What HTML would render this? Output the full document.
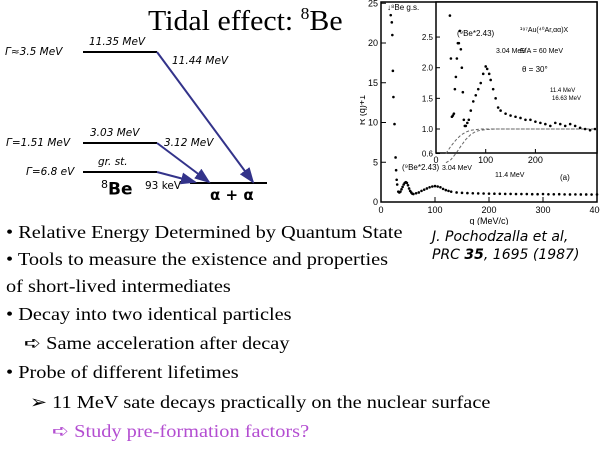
<!DOCTYPE html>
<html><head><meta charset="utf-8"><style>
body{margin:0;background:#fff}
#s{position:relative;width:600px;height:450px;overflow:hidden;background:#fff;font-family:"Liberation Serif",serif}
.t{position:absolute;white-space:nowrap}
.b{font-size:18px;color:#000;transform:scaleX(1.13);transform-origin:0 0}
.m{font-family:"DejaVu Sans",sans-serif;font-size:10.5px;font-style:italic;color:#000}
</style></head><body>
<div id="s">
<div class="t" style="left:148px;top:4px;font-size:29px;transform:scaleX(1.03);transform-origin:0 0">Tidal effect: <sup style="font-size:17px;vertical-align:11px">8</sup>Be</div>

<svg width="360" height="210" style="position:absolute;left:0;top:0">
<defs><marker id="ah" markerWidth="8" markerHeight="8" refX="7" refY="4" orient="auto"><path d="M0,1 L8,4 L0,7 z" fill="#33338a"/></marker></defs>
<g stroke="#000" stroke-width="2">
<line x1="83" y1="52" x2="157" y2="52"/>
<line x1="83" y1="143" x2="157" y2="143"/>
<line x1="83" y1="172" x2="157" y2="172"/>
<line x1="190" y1="183" x2="267" y2="183"/>
</g>
<g stroke="#33338a" stroke-width="2" marker-end="url(#ah)">
<line x1="157" y1="52" x2="253" y2="182"/>
<line x1="157" y1="143" x2="209" y2="182"/>
<line x1="157" y1="172" x2="195" y2="182"/>
</g>
</svg>
<div class="t m" style="left:5px;top:46px">Γ≈3.5 MeV</div>
<div class="t m" style="left:89px;top:36px">11.35 MeV</div>
<div class="t m" style="left:172px;top:55px">11.44 MeV</div>
<div class="t m" style="left:6px;top:137px">Γ=1.51 MeV</div>
<div class="t m" style="left:90px;top:127px">3.03 MeV</div>
<div class="t m" style="left:164px;top:137px">3.12 MeV</div>
<div class="t m" style="left:26px;top:166px">Γ=6.8 eV</div>
<div class="t m" style="left:98px;top:156px">gr. st.</div>
<div class="t" style="left:101px;top:178px;font-family:'DejaVu Sans',sans-serif;font-size:17px;font-weight:bold"><sup style="font-size:11px;font-weight:normal">8</sup>Be</div>
<div class="t m" style="left:145px;top:180px;font-style:normal">93 keV</div>
<div class="t" style="left:210px;top:186px;font-family:'DejaVu Sans',sans-serif;font-size:15px;font-weight:bold">α + α</div>

<svg id="ch" width="240" height="225" style="position:absolute;left:360px;top:0;font-family:'Liberation Sans',sans-serif"></svg>

<div class="t" style="left:432px;top:228px;font-family:'DejaVu Sans',sans-serif;font-style:italic;font-size:14px;line-height:18px">J. Pochodzalla et al,<br>PRC <b>35</b>, 1695 (1987)</div>

<div class="t b" style="left:6px;top:222px">• Relative Energy Determined by Quantum State</div>
<div class="t b" style="left:6px;top:249px">• Tools to measure the existence and properties</div>
<div class="t b" style="left:6px;top:276px">of short-lived intermediates</div>
<div class="t b" style="left:6px;top:304px">• Decay into two identical particles</div>
<div class="t b" style="left:24px;top:333px">➪ Same acceleration after decay</div>
<div class="t b" style="left:6px;top:362px">• Probe of different lifetimes</div>
<div class="t b" style="left:30px;top:392px">➢ 11 MeV sate decays practically on the nuclear surface</div>
<div class="t b" style="left:52px;top:421px;color:#b34dd1">➪ Study pre-formation factors?</div>
</div>
<script>
const mainQ=[18,20,21,22,23,25,27,28,29,30,32,34,36,38,40,42,44,46,48,50,52,54,56,58,60,65,70,75,80,85,90,95,100,105,110,115,120,125,130,140,150,160,170,180,190,200,210,220,230,240,250,260,270,280,290,300,310,320,330,340,350,360,370,380,390,400];
const mainR=[23.5,22.6,21,16.5,13.2,9.8,5.6,4.0,2.8,2.2,1.3,1.2,1.3,1.6,1.9,2.2,2.4,2.5,2.4,2.1,1.7,1.4,1.2,1.05,1.0,1.1,1.2,1.4,1.55,1.7,1.85,1.95,2.0,1.95,1.85,1.65,1.5,1.4,1.3,1.2,1.15,1.12,1.1,1.08,1.07,1.05,1.04,1.03,1.02,1.02,1.0,1.0,1.0,0.98,0.98,1.0,0.97,0.97,0.98,0.96,0.95,0.96,0.95,0.95,0.94,0.95];
const insetQ=[28,30,32,34,36,38,40,42,44,46,48,50,52,54,56,58,60,63,66,70,75,80,85,90,95,100,103,107,110,115,120,125,130,140,150,160,170,180,190,200,210,220,230,240,250,260,270,280,290,300,310,320];
const insetR=[2.85,2.15,1.2,1.22,1.25,1.65,1.85,2.15,2.4,2.4,2.6,2.3,2.0,1.6,1.15,1.05,1.05,1.1,1.15,1.3,1.45,1.55,1.65,1.75,1.9,2.02,1.98,1.9,1.8,1.65,1.5,1.35,1.3,1.25,1.22,1.2,1.18,1.15,1.15,1.12,1.1,1.08,1.05,1.1,1.08,1.05,1.08,1.05,1.02,1.0,0.98,1.0];
const dashQ=[20,30,40,50,60,70,80,90,100,120,150,200,250,324];
const dashA=[0.6,0.72,0.82,0.9,0.95,0.98,0.99,1.0,1.0,1.0,1.0,1.0,1.0,1.0];
const dashB=[0.45,0.5,0.6,0.72,0.83,0.91,0.96,0.98,0.99,1.0,1.0,1.0,1.0,1.0];
const xTicks=[0,100,200,300,400];
const yTicks=[0,5,10,15,20,25];
const ixTicks=[0,100,200];
const iyTicks=[0.6,1.0,1.5,2.0,2.5];
const svg=document.getElementById('ch');
const NS='http://www.w3.org/2000/svg';
function mk(t,a,p){const e=document.createElementNS(NS,t);for(const k in a)e.setAttribute(k,a[k]);(p||svg).appendChild(e);return e;}
const X=q=>21+q*0.54, Y=r=>202-r*7.95;
const IX=q=>76+q*0.497, IY=r=>129-(r-1)*61.3;
let e=mk('rect',{x:21,y:2,width:216,height:200,fill:'none',stroke:'#000','stroke-width':1.5});


xTicks.forEach(v=>{mk('line',{x1:X(v),y1:202,x2:X(v),y2:197,stroke:'#000'});let t=mk('text',{x:X(v),y:213,'font-size':9,'text-anchor':'middle'});t.textContent=v;});
yTicks.forEach(v=>{mk('line',{x1:21,y1:Y(v),x2:26,y2:Y(v),stroke:'#000'});let t=mk('text',{x:18,y:Y(v)+3,'font-size':9,'text-anchor':'end'});t.textContent=v;});
let xt=mk('text',{x:X(200),y:224,'font-size':9,'text-anchor':'middle'});xt.textContent='q (MeV/c)';


let yt=mk('text',{x:5,y:110,'font-size':9,'text-anchor':'middle',transform:'rotate(-90 5 110)'});yt.textContent='R (q)+1';


mainQ.forEach((q,i)=>{let c=mk('circle',{cx:X(q),cy:Y(mainR[i]),r:1.3,fill:'#000'});});
e=mk('rect',{x:76,y:2,width:161,height:151,fill:'#fff',stroke:'#000','stroke-width':1.5});


ixTicks.forEach(v=>{mk('line',{x1:IX(v),y1:153,x2:IX(v),y2:149,stroke:'#000'});let t=mk('text',{x:IX(v),y:163,'font-size':9,'text-anchor':'middle'});t.textContent=v;});
iyTicks.forEach(v=>{mk('line',{x1:76,y1:IY(v),x2:80,y2:IY(v),stroke:'#000'});let t=mk('text',{x:73,y:IY(v)+3,'font-size':8,'text-anchor':'end'});t.textContent=v.toFixed(1);});
[dashA,dashB].forEach(arr=>{let d=dashQ.map((q,i)=>(i?'L':'M')+IX(q)+','+IY(arr[i])).join(' ');let p=mk('path',{d:d,fill:'none',stroke:'#666','stroke-dasharray':'3,2'});});
insetQ.forEach((q,i)=>{let c=mk('circle',{cx:IX(q),cy:IY(insetR[i]),r:1.3,fill:'#000'});});
function lab(x,y,s,fs,nm){let t=mk('text',{x:x,y:y,'font-size':fs});t.textContent=s;}
lab(27,10,'↓⁸Be g.s.',8,'label-gs');
lab(97,36,'(⁹Be*2.43)',8,'inset-label-9be');
lab(136,53,'3.04 MeV',7,'inset-label-304');
lab(160,32,'¹⁹⁷Au(⁴⁰Ar,αα)X',7,'reaction-label');
lab(160,53,'E/A = 60 MeV',7,'energy-label');
lab(162,72,'θ = 30°',8,'angle-label');
lab(190,92,'11.4 MeV',6,'inset-label-114');
lab(192,100,'16.63 MeV',6,'inset-label-1663');
lab(42,170,'(⁹Be*2.43)',8,'main-label-9be');
lab(82,170,'3.04 MeV',7,'main-label-304');
lab(135,177,'11.4 MeV',7,'main-label-114');
lab(200,180,'(a)',8,'panel-label');
</script>
</body></html>
